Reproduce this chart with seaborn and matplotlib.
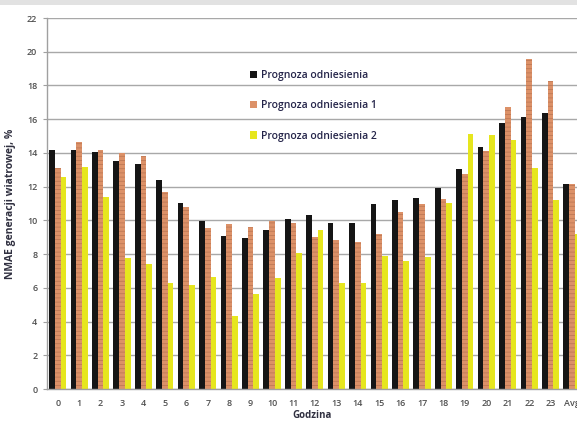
import numpy as np
import pandas as pd
import seaborn as sns
import matplotlib.pyplot as plt
from matplotlib.patches import Rectangle

# Hours of the day plus the daily average
hours = [str(h) for h in range(24)] + ["Avg"]

# NMAE of wind generation forecast, %
ref_forecast = [14.16, 14.16, 14.04, 13.52, 13.35, 12.40, 11.01, 9.96, 9.09, 8.98,
                9.43, 10.06, 10.32, 9.83, 9.83, 10.97, 11.20, 11.30, 11.94, 13.03,
                14.33, 15.80, 16.11, 16.39, 12.14]
ref_forecast_1 = [13.13, 14.67, 14.18, 13.98, 13.84, 11.70, 10.78, 9.53, 9.77, 9.63,
                  9.96, 9.87, 9.04, 8.84, 8.74, 9.17, 10.52, 11.00, 11.25, 12.73,
                  14.13, 16.70, 19.57, 18.27, 12.15]
ref_forecast_2 = [12.59, 13.19, 11.41, 7.75, 7.39, 6.27, 6.15, 6.66, 4.35, 5.61,
                  6.56, 8.05, 9.43, 6.27, 6.31, 7.89, 7.59, 7.85, 11.05, 15.12,
                  15.08, 14.77, 13.13, 11.20, 9.20]

series_names = ["Prognoza odniesienia", "Prognoza odniesienia 1", "Prognoza odniesienia 2"]
y_ticks = list(range(0, 23, 2))

df = pd.DataFrame({
    "Godzina": hours * 3,
    "NMAE": ref_forecast + ref_forecast_1 + ref_forecast_2,
    "Seria": sum([[n] * len(hours) for n in series_names], []),
})

sns.set_style("white")
plt.rcParams["font.family"] = ["Open Sans", "DejaVu Sans"]
plt.rcParams["hatch.linewidth"] = 0.5

colors = ["#151515", "#DC9168", "#E6E61E"]
fig = plt.figure(figsize=(5.77, 4.24), dpi=100)
fig.patch.set_facecolor("white")
ax = fig.add_axes([0.0815, 0.0825, 0.9185, 0.875])

sns.barplot(data=df, x="Godzina", y="NMAE", hue="Seria", order=hours,
            hue_order=series_names, palette=colors, width=0.8,
            saturation=1, ax=ax, legend=True, linewidth=0)

# Textured fill on the bars
hatch_colors = ["#3a3a3a", "#B87452", "#E6E61E"]
hatches = ["", "----", ""]
for cont, hc, hat in zip(ax.containers, hatch_colors, hatches):
    for bar in cont:
        bar.set_hatch(hat)
        bar.set_edgecolor(hc)
        bar.set_linewidth(0)

ax.set_xlim(-0.5, 24.23)
ax.set_ylim(0, 22)
ax.set_yticks(y_ticks)
ax.yaxis.grid(True, color="#A8A8A8", linewidth=1.0)
ax.set_axisbelow(True)
for s in ["top", "right"]:
    ax.spines[s].set_visible(False)
for s in ["left", "bottom"]:
    ax.spines[s].set_color("#A0A0A0")
    ax.spines[s].set_linewidth(1.0)
ax.tick_params(axis="y", which="major", left=True, length=3, color="#A0A0A0",
               labelsize=6.5, labelcolor="#505050", pad=4)
ax.tick_params(axis="x", bottom=False, labelsize=6.5, labelcolor="#505050", pad=4)
for lbl in ax.get_xticklabels() + ax.get_yticklabels():
    lbl.set_fontweight("semibold")

ax.set_xlabel("Godzina", fontsize=7, fontweight="bold", color="#303040", labelpad=1)
ax.set_ylabel("NMAE generacji wiatrowej, %", fontsize=7.5, fontweight="bold",
              color="#303040", labelpad=8)

handles, labels = ax.get_legend_handles_labels()
leg = ax.legend(handles, labels, loc="upper left", bbox_to_anchor=(0.365, 0.885),
                frameon=False, fontsize=7.5, labelspacing=1.85, handlelength=0.7,
                handleheight=0.7, handletextpad=0.4, labelcolor="#25254a")
for t in leg.get_texts():
    t.set_fontweight("semibold")

# Light band along the top edge
fig.add_artist(Rectangle((0, 0.988), 1, 0.012, transform=fig.transFigure,
                         facecolor="#E2E2E2", edgecolor="none"))

fig.savefig("out.png", dpi=100)
